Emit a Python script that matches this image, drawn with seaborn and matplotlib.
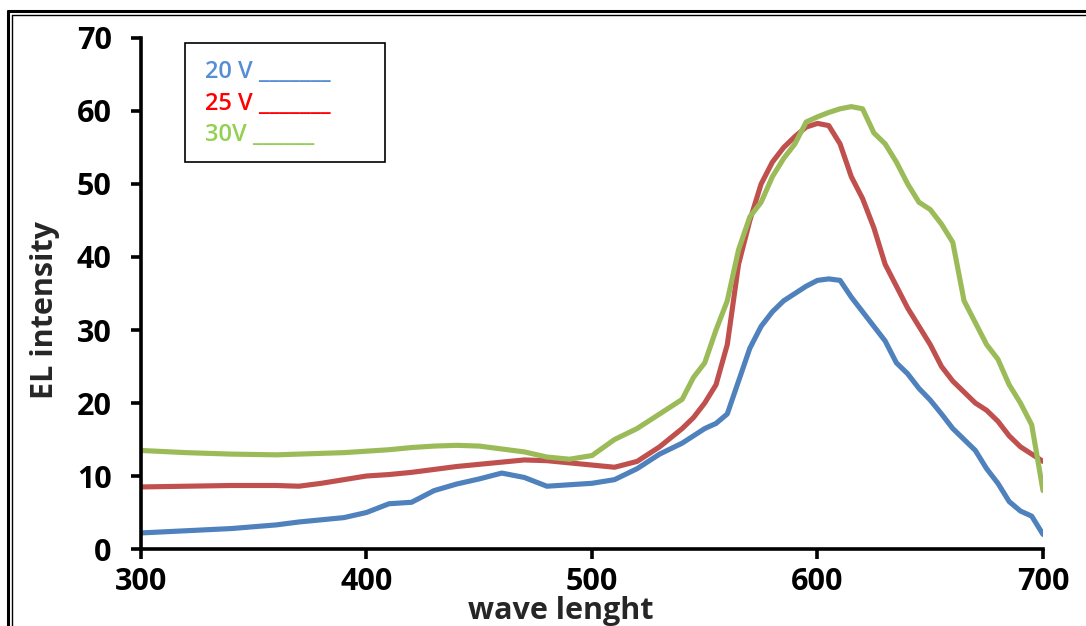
import numpy as np
import pandas as pd
import matplotlib
matplotlib.use("Agg")
import matplotlib.pyplot as plt
import seaborn as sns
from matplotlib.lines import Line2D

# wavelength grid (nm)
wavelength = [300, 320, 340, 360, 370, 380, 390, 400, 410, 420, 430, 440, 450,
              460, 470, 480, 490, 500, 510, 520, 530, 540, 545, 550, 555, 560,
              565, 570, 575, 580, 585, 590, 595, 600, 605, 610, 615, 620, 625,
              630, 635, 640, 645, 650, 655, 660, 665, 670, 675, 680, 685, 690,
              695, 700]

el_20v = [2.2, 2.5, 2.8, 3.3, 3.7, 4.0, 4.3, 5.0, 6.2, 6.4, 8.0, 8.9, 9.6,
          10.4, 9.8, 8.6, 8.8, 9.0, 9.5, 11.0, 13.0, 14.5, 15.5, 16.5, 17.2, 18.5,
          23.0, 27.5, 30.5, 32.5, 34.0, 35.0, 36.0, 36.8, 37.0, 36.8, 34.5, 32.5, 30.5,
          28.5, 25.5, 24.0, 22.0, 20.4, 18.5, 16.5, 15.0, 13.5, 11.0, 9.0, 6.5, 5.2,
          4.5, 2.0]

el_25v = [8.5, 8.6, 8.7, 8.7, 8.6, 9.0, 9.5, 10.0, 10.2, 10.5, 10.9, 11.3, 11.6,
          11.9, 12.2, 12.1, 11.8, 11.5, 11.2, 12.0, 14.0, 16.5, 18.0, 20.0, 22.5, 28.0,
          39.0, 45.0, 50.0, 53.0, 55.0, 56.5, 57.8, 58.3, 58.0, 55.5, 51.0, 48.0, 44.0,
          39.0, 36.0, 33.0, 30.5, 28.0, 25.0, 23.0, 21.5, 20.0, 19.0, 17.5, 15.5, 14.0,
          13.0, 12.0]

el_30v = [13.5, 13.2, 13.0, 12.9, 13.0, 13.1, 13.2, 13.4, 13.6, 13.9, 14.1, 14.2, 14.1,
          13.7, 13.3, 12.6, 12.3, 12.8, 15.0, 16.5, 18.5, 20.5, 23.5, 25.5, 30.0, 34.0,
          41.0, 45.5, 47.5, 51.0, 53.5, 55.5, 58.5, 59.2, 59.8, 60.3, 60.6, 60.3, 57.0,
          55.5, 53.0, 50.0, 47.5, 46.5, 44.5, 42.0, 34.0, 31.0, 28.0, 26.0, 22.5, 20.0,
          17.0, 8.0]

voltages = ["20 V", "25 V", "30V"]
legend_marks = ["_______", "_______", "______"]
line_colors = ["#4F81BD", "#C0504D", "#9BBB59"]
text_colors = ["#558ED5", "#FF0000", "#92D050"]
x_ticks = [300, 400, 500, 600, 700]
y_ticks = [0, 10, 20, 30, 40, 50, 60, 70]

df = pd.concat([
    pd.DataFrame({"wl": wavelength, "el": vals, "V": v})
    for v, vals in zip(voltages, [el_20v, el_25v, el_30v])
])

sns.set_style("white")
plt.rcParams["font.family"] = ["Open Sans", "DejaVu Sans"]

fig = plt.figure(figsize=(10.86, 6.26), dpi=100)
ax = fig.add_axes([0.1298, 0.123, 0.8306, 0.8163])

sns.lineplot(data=df, x="wl", y="el", hue="V", palette=line_colors,
             linewidth=3.7, legend=False, ax=ax)
for ln in ax.lines:
    ln.set_solid_capstyle("round")
    ln.set_solid_joinstyle("round")

ax.set_xlim(300, 700)
ax.set_ylim(0, 70)
ax.set_xticks(x_ticks)
ax.set_yticks(y_ticks)
ax.set_xlabel("")
ax.set_ylabel("")
for s in ["top", "right"]:
    ax.spines[s].set_visible(False)
for s in ["left", "bottom"]:
    ax.spines[s].set_linewidth(2.6)
    ax.spines[s].set_color("black")
ax.tick_params(axis="both", direction="out", length=7, width=2.6,
               labelsize=22, colors="black", bottom=True, left=True)
ax.tick_params(axis="y", pad=14)
ax.tick_params(axis="x", pad=6)
for lab in ax.get_xticklabels() + ax.get_yticklabels():
    lab.set_fontweight("bold")

fig.text(561 / 1086, 1 - 596 / 626, "wave lenght", ha="center", va="top",
         fontsize=22, fontweight="bold")
fig.text(45 / 1086, 1 - 310 / 626, "EL intensity", ha="center", va="center",
         rotation=90, fontsize=22, fontweight="bold")

# legend box
fig.add_artist(plt.Rectangle((185 / 1086, 1 - 162 / 626), 200 / 1086, 119 / 626,
                             transform=fig.transFigure, fill=False,
                             edgecolor="black", linewidth=1.2))
for i, (v, m, c) in enumerate(zip(voltages, legend_marks, text_colors)):
    fig.text(205 / 1086, 1 - (72 + 31.5 * i) / 626, v + " " + m,
             ha="left", va="center", fontsize=17, fontweight="semibold", color=c)

# double frame around figure
for x0, lw in [(8, 2.2), (12, 1.0)]:
    fig.add_artist(Line2D([x0 / 1086, x0 / 1086], [0, 1 - (x0 + 3) / 626],
                          transform=fig.transFigure, color="black", linewidth=lw))
    fig.add_artist(Line2D([x0 / 1086, 1], [1 - (x0 + 3) / 626, 1 - (x0 + 3) / 626],
                          transform=fig.transFigure, color="black", linewidth=lw))

fig.savefig("out.png", dpi=100)
